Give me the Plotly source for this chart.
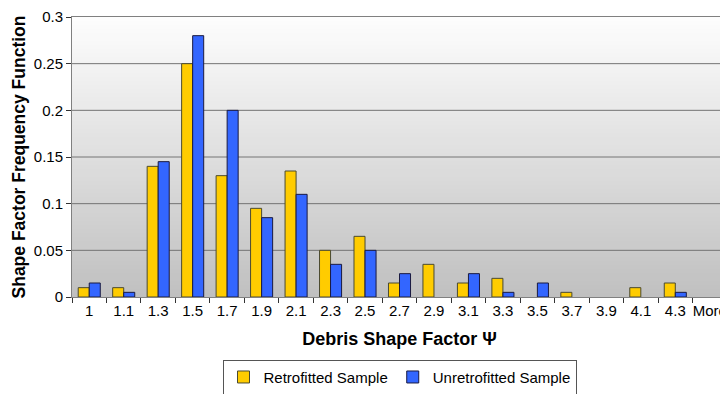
import plotly.graph_objects as go

categories = ["1", "1.1", "1.3", "1.5", "1.7", "1.9", "2.1", "2.3", "2.5", "2.7",
              "2.9", "3.1", "3.3", "3.5", "3.7", "3.9", "4.1", "4.3", "More"]
retrofitted = [0.01, 0.01, 0.14, 0.25, 0.13, 0.095, 0.135, 0.05, 0.065, 0.015,
               0.035, 0.015, 0.02, 0, 0.005, 0, 0.01, 0.015, 0]
unretrofitted = [0.015, 0.005, 0.145, 0.28, 0.2, 0.085, 0.11, 0.035, 0.05, 0.025,
                 0, 0.025, 0.005, 0.015, 0, 0, 0, 0.005, 0]
y_ticks = [0, 0.05, 0.1, 0.15, 0.2, 0.25, 0.3]
y_tick_labels = ["0", "0.05", "0.1", "0.15", "0.2", "0.25", "0.3"]

FONT = "Liberation Sans, Arial, sans-serif"
Y_MAX = y_ticks[-1]


def hide_zero(vals):
    return [v if v != 0 else None for v in vals]


fig = go.Figure()

# --- background: vertical grey gradient (bands) + gridlines, on hidden x axis 'x'
N = 70
top_c, bot_c = 0xFD, 0xC0
band_cols = []
for i in range(N):
    t = i / (N - 1)
    c = int(round(bot_c + (top_c - bot_c) * t))
    band_cols.append(f"rgb({c},{c},{c})")
band_h = Y_MAX / N
fig.add_trace(go.Bar(x=[0.5] * N, y=[band_h * 1.02] * N,
                     base=[i * band_h for i in range(N)], width=[1] * N,
                     marker=dict(color=band_cols, line=dict(width=0)),
                     xaxis="x", yaxis="y", showlegend=False, hoverinfo="skip"))
gx, gy = [], []
for tv in y_ticks[1:-1]:
    gx += [0, 1, None]
    gy += [tv, tv, None]
fig.add_trace(go.Scatter(x=gx, y=gy, mode="lines", line=dict(color="#747474", width=1),
                         xaxis="x", yaxis="y", showlegend=False, hoverinfo="skip"))

# --- data bars on the category axis 'x2' (overlaying, drawn on top)
fig.add_trace(go.Bar(x=categories, y=hide_zero(retrofitted), name="Retrofitted Sample",
                     xaxis="x2", yaxis="y",
                     marker=dict(color="#FFCC00", line=dict(color="#4a4a30", width=1))))
fig.add_trace(go.Bar(x=categories, y=hide_zero(unretrofitted), name="Unretrofitted Sample",
                     xaxis="x2", yaxis="y",
                     marker=dict(color="#3366FF", line=dict(color="#1a1a40", width=1))))

# the page body adds an 8 px offset; size/margins compensate for it
fig.update_layout(
    width=720, height=386,
    margin=dict(l=64, r=1, t=9, b=97, autoexpand=False),
    paper_bgcolor="white",
    plot_bgcolor="white",
    barmode="group",
    bargap=0.36,
    bargroupgap=0,
    font=dict(family=FONT, size=15, color="black"),
    showlegend=True,
    legend=dict(orientation="h", x=0.5, xanchor="center", y=-0.224, yanchor="top",
                bordercolor="#555555", borderwidth=1, bgcolor="white",
                font=dict(size=15), tracegroupgap=0, itemwidth=30),
    xaxis=dict(range=[0, 1], visible=False, fixedrange=True),
    xaxis2=dict(
        type="category",
        overlaying="x", side="bottom",
        tickson="boundaries",
        tickangle=0,
        ticks="outside", ticklen=5, tickcolor="#333333",
        showline=True, linecolor="#808080", mirror=True,
        showgrid=False,
        automargin=False,
        ticklabeloverflow="allow",
        tickfont=dict(size=15),
        title=dict(text="<b>Debris Shape Factor Ψ</b>", font=dict(size=18), standoff=14),
    ),
    yaxis=dict(
        range=[0, Y_MAX],
        tickvals=y_ticks, ticktext=y_tick_labels,
        ticks="outside", ticklen=5, tickcolor="#333333",
        showline=True, linecolor="#808080", mirror=True,
        showgrid=False,
        zeroline=False,
        automargin=False,
        ticklabeloverflow="allow",
        tickfont=dict(size=15),
        title=dict(text="<b>Shape Factor Frequency Function</b>", font=dict(size=17.5), standoff=3),
    ),
)

fig.write_html("out.html")
